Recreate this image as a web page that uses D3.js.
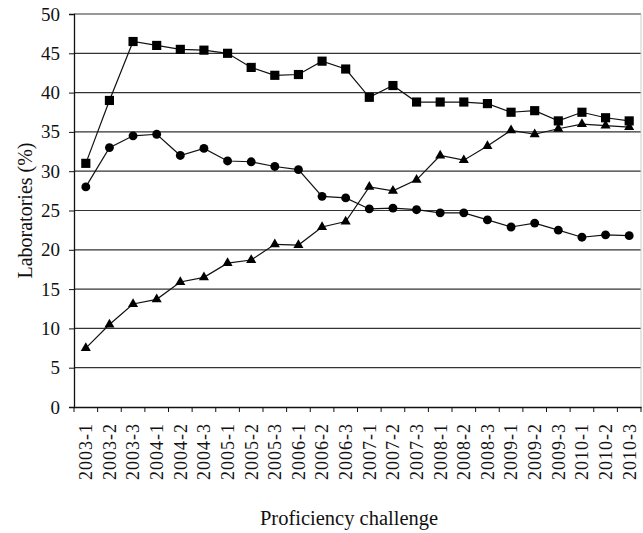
<!DOCTYPE html>
<html>
<head>
<meta charset="utf-8">
<script src="https://cdn.jsdelivr.net/npm/d3@7"></script>
<style>
  body { margin: 0; background: #fff; }
  text { font-family: "Liberation Serif", "DejaVu Serif", serif; fill: #111; }
</style>
</head>
<body>
<div id="wrapper"></div>
<script>
// proficiency challenges
let challenges = ['2003-1', '2003-2', '2003-3', '2004-1', '2004-2', '2004-3',
    '2005-1', '2005-2', '2005-3', '2006-1', '2006-2', '2006-3',
    '2007-1', '2007-2', '2007-3', '2008-1', '2008-2', '2008-3',
    '2009-1', '2009-2', '2009-3', '2010-1', '2010-2', '2010-3'];

// laboratories (%) per series
let squares = [31.0, 39.0, 46.5, 46.0, 45.5, 45.4, 45.0, 43.2, 42.2, 42.3, 44.0, 43.0,
    39.4, 40.9, 38.8, 38.8, 38.8, 38.6, 37.5, 37.7, 36.4, 37.5, 36.8, 36.4];
let circles = [28.0, 33.0, 34.5, 34.7, 32.0, 32.9, 31.3, 31.2, 30.6, 30.2, 26.8, 26.6,
    25.2, 25.3, 25.1, 24.7, 24.7, 23.8, 22.9, 23.4, 22.5, 21.6, 21.9, 21.8];
let triangles = [7.5, 10.5, 13.1, 13.7, 15.9, 16.5, 18.3, 18.7, 20.7, 20.6, 22.9, 23.6,
    28.0, 27.5, 28.9, 32.0, 31.4, 33.2, 35.2, 34.7, 35.4, 36.0, 35.8, 35.6];

let yTicks = [0, 5, 10, 15, 20, 25, 30, 35, 40, 45, 50];

let width = 643, height = 533;
let margin = { top: 14, right: 2, bottom: 126, left: 74 };
let iw = width - margin.left - margin.right;
let ih = height - margin.top - margin.bottom;

let svg = d3.select('#wrapper')
    .append('svg')
    .attr('width', width)
    .attr('height', height);

let g = svg.append('g')
    .attr('transform', 'translate(' + margin.left + ',' + margin.top + ')');

let x = d3.scaleBand().domain(challenges).range([0, iw]);
let y = d3.scaleLinear().domain([0, 50]).range([ih, 0]);

// gridlines
g.selectAll('.grid')
    .data(yTicks.slice(1))
    .enter()
    .append('line')
    .attr('x1', 0)
    .attr('x2', iw)
    .attr('y1', function (d) { return y(d) })
    .attr('y2', function (d) { return y(d) })
    .style('stroke', '#333')
    .style('stroke-width', 1.2);

// faint right edge
g.append('line')
    .attr('x1', iw).attr('x2', iw)
    .attr('y1', 0).attr('y2', ih)
    .style('stroke', '#ccc');

// y axis
let yAxis = g.append('g')
    .call(d3.axisLeft(y).tickValues(yTicks).tickSize(5).tickPadding(9));
yAxis.select('.domain').style('stroke', '#111').style('stroke-width', 1.3);
yAxis.selectAll('line').style('stroke', '#111');
yAxis.selectAll('text').style('font-size', '19px');

// x axis with ticks at the band edges
let xAxis = g.append('g')
    .attr('transform', 'translate(0,' + ih + ')')
    .call(d3.axisBottom(x).tickSize(0));
xAxis.select('.domain').style('stroke', '#111').style('stroke-width', 1.3);
xAxis.selectAll('text')
    .style('font-size', '18px')
    .style('letter-spacing', '1px')
    .attr('transform', 'rotate(-90)')
    .attr('x', -16)
    .attr('y', 0)
    .attr('dy', '0.35em')
    .style('text-anchor', 'end');

xAxis.selectAll('.edge')
    .data(challenges.concat(['end']))
    .enter()
    .append('line')
    .attr('x1', function (d, i) { return i * x.bandwidth() })
    .attr('x2', function (d, i) { return i * x.bandwidth() })
    .attr('y1', 0)
    .attr('y2', 5)
    .style('stroke', '#111');

let line = d3.line()
    .x(function (d, i) { return x(challenges[i]) + x.bandwidth() / 2 })
    .y(function (d) { return y(d) });

let series = [
    { values: squares, symbol: d3.symbolSquare, size: 84 },
    { values: circles, symbol: d3.symbolCircle, size: 62 },
    { values: triangles, symbol: d3.symbolTriangle, size: 44 }
];

series.forEach(function (s) {
    g.append('path')
        .datum(s.values)
        .attr('d', line)
        .style('fill', 'none')
        .style('stroke', '#111')
        .style('stroke-width', 1.2);

    g.selectAll(null)
        .data(s.values)
        .enter()
        .append('path')
        .attr('d', d3.symbol().type(s.symbol).size(s.size))
        .attr('transform', function (d, i) {
            return 'translate(' + (x(challenges[i]) + x.bandwidth() / 2) + ',' + y(d) + ')';
        })
        .style('fill', '#000');
});

// axis titles
svg.append('text')
    .attr('transform', 'translate(32,' + (margin.top + ih / 2) + ') rotate(-90)')
    .style('text-anchor', 'middle')
    .style('font-size', '20px')
    .text('Laboratories (%)');

svg.append('text')
    .attr('x', 349)
    .attr('y', 525)
    .style('text-anchor', 'middle')
    .style('font-size', '20.5px')
    .text('Proficiency challenge');
</script>
</body>
</html>
